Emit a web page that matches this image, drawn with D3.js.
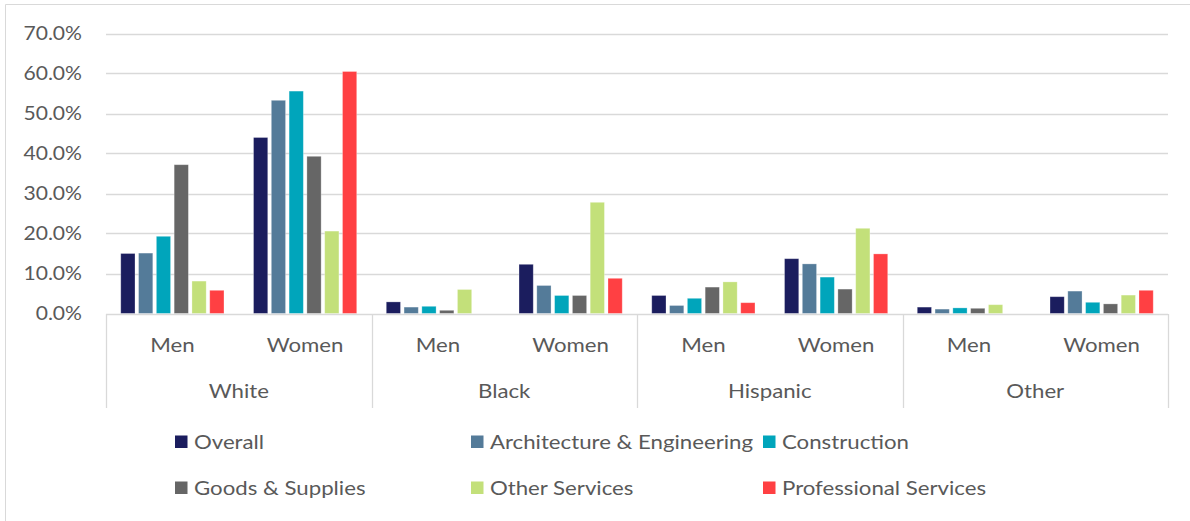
<!DOCTYPE html>
<html>
<head>
<meta charset="utf-8">
<script src="https://cdn.jsdelivr.net/npm/d3@7"></script>
<style>
  html, body { margin: 0; padding: 0; background: #ffffff; }
  svg { display: block; }
  text { font-family: Lato, "Open Sans", sans-serif; fill: #595959; }
</style>
</head>
<body>
<svg id="chart" width="1190" height="521"></svg>
<script>
// Race groups and the gender sub-categories within each
const races = ["White", "Black", "Hispanic", "Other"];
const genders = ["Men", "Women"];

// Industry series
const seriesNames = [
  "Overall",
  "Architecture & Engineering",
  "Construction",
  "Goods & Supplies",
  "Other Services",
  "Professional Services"
];
const seriesColors = ["#1b1d5e", "#547b99", "#00a5bb", "#666666", "#c3e07a", "#ff4043"];

// Share of each group, order: White Men, White Women, Black Men, Black Women,
// Hispanic Men, Hispanic Women, Other Men, Other Women
const overall      = [0.150, 0.440, 0.029, 0.123, 0.045, 0.137, 0.016, 0.042];
const archEng      = [0.151, 0.533, 0.016, 0.070, 0.020, 0.124, 0.011, 0.056];
const construction = [0.193, 0.556, 0.018, 0.045, 0.038, 0.091, 0.014, 0.028];
const goods        = [0.372, 0.393, 0.008, 0.045, 0.066, 0.061, 0.013, 0.024];
const otherServ    = [0.081, 0.206, 0.060, 0.278, 0.079, 0.213, 0.022, 0.046];
const profServ     = [0.058, 0.605, 0.000, 0.088, 0.027, 0.149, 0.000, 0.058];

const yTicks = [0, 0.1, 0.2, 0.3, 0.4, 0.5, 0.6, 0.7];

const seriesValues = [overall, archEng, construction, goods, otherServ, profServ];
const categories = [];
races.forEach(r => genders.forEach(g => categories.push({ race: r, gender: g, key: r + "|" + g })));

const svg = d3.select("#chart");

// Text is drawn slightly widened to give a Calibri-like proportion
const SX = 1.14;
function placeText(sel, fx, fy) {
  return sel.attr("x", 0).attr("y", 0)
    .attr("transform", (d, i) => `translate(${fx(d, i)},${fy(d, i)}) scale(${SX},1)`);
}

// Outer chart frame
svg.append("path")
  .attr("d", "M5.5,521 V4.5 H1190")
  .attr("fill", "none")
  .attr("stroke", "#d9d9d9")
  .attr("stroke-width", 1);

const plot = { left: 106, right: 1168, top: 33.5, bottom: 313.5 };

const x0 = d3.scaleBand()
  .domain(categories.map(c => c.key))
  .range([plot.left, plot.right])
  .paddingInner(0).paddingOuter(0);

const x1 = d3.scaleBand()
  .domain(seriesNames)
  .range([0, x0.bandwidth()])
  .paddingInner(0.2)
  .paddingOuter(0.83);

const xRace = d3.scaleBand()
  .domain(races)
  .range([plot.left, plot.right]);

const y = d3.scaleLinear()
  .domain([0, 0.7])
  .range([plot.bottom, plot.top]);

// Horizontal gridlines
svg.append("g")
  .selectAll("line")
  .data(yTicks.filter(t => t > 0))
  .join("line")
  .attr("x1", plot.left)
  .attr("x2", plot.right)
  .attr("y1", d => Math.round(y(d)) + 0.5)
  .attr("y2", d => Math.round(y(d)) + 0.5)
  .attr("stroke", "#d9d9d9")
  .attr("stroke-width", 1.3);

// Y axis tick labels
const fmt = d3.format(".1%");
placeText(
  svg.append("g")
    .selectAll("text")
    .data(yTicks)
    .join("text")
    .attr("dy", "0.36em")
    .attr("text-anchor", "end")
    .style("font-size", "18.5px")
    .text(d => fmt(d)),
  () => 82, d => y(d));

// Bars
const barGroups = svg.append("g")
  .selectAll("g")
  .data(categories)
  .join("g")
  .attr("transform", d => `translate(${x0(d.key)},0)`);

barGroups.selectAll("rect")
  .data((d, ci) => seriesNames.map((s, si) => ({ series: s, value: seriesValues[si][ci], color: seriesColors[si] })))
  .join("rect")
  .attr("x", d => x1(d.series))
  .attr("width", x1.bandwidth())
  .attr("y", d => y(d.value))
  .attr("height", d => y(0) - y(d.value))
  .attr("fill", d => d.color)
  .attr("stroke", "#ffffff")
  .attr("stroke-opacity", 0.35)
  .attr("stroke-width", 0.8);

// Category axis line
svg.append("line")
  .attr("x1", plot.left).attr("x2", plot.right)
  .attr("y1", Math.round(y(0)) + 0.5).attr("y2", Math.round(y(0)) + 0.5)
  .attr("stroke", "#d9d9d9")
  .attr("stroke-width", 1.3);

// Separators between race groups
const sepX = races.map(r => xRace(r)).concat([plot.right]);
svg.append("g")
  .selectAll("line")
  .data(sepX)
  .join("line")
  .attr("x1", d => Math.round(d) + 0.5)
  .attr("x2", d => Math.round(d) + 0.5)
  .attr("y1", Math.round(y(0)))
  .attr("y2", 408)
  .attr("stroke", "#d9d9d9")
  .attr("stroke-width", 1.3);

// Gender labels
placeText(
  svg.append("g")
    .selectAll("text")
    .data(categories)
    .join("text")
    .attr("dy", "0.36em")
    .attr("text-anchor", "middle")
    .style("font-size", "19.5px")
    .text(d => d.gender),
  d => x0(d.key) + x0.bandwidth() / 2, () => 345);

// Race labels
placeText(
  svg.append("g")
    .selectAll("text")
    .data(races)
    .join("text")
    .attr("dy", "0.36em")
    .attr("text-anchor", "middle")
    .style("font-size", "19.5px")
    .text(d => d),
  d => xRace(d) + xRace.bandwidth() / 2, () => 391);

// Legend: two rows of three entries
const legendCols = [175, 471, 763];
const legendRows = [442, 488];
const legend = svg.append("g")
  .selectAll("g")
  .data(seriesNames)
  .join("g")
  .attr("transform", (d, i) => `translate(${legendCols[i % 3]},${legendRows[Math.floor(i / 3)]})`);

legend.append("rect")
  .attr("x", 0).attr("y", -6.5)
  .attr("width", 12.5).attr("height", 12.5)
  .attr("fill", (d, i) => seriesColors[i]);

legend.append("text")
  .attr("x", 0)
  .attr("y", 0)
  .attr("transform", `translate(19,0) scale(${SX},1)`)
  .attr("dy", "0.36em")
  .style("font-size", "19.5px")
  .text(d => d);
</script>
</body>
</html>
